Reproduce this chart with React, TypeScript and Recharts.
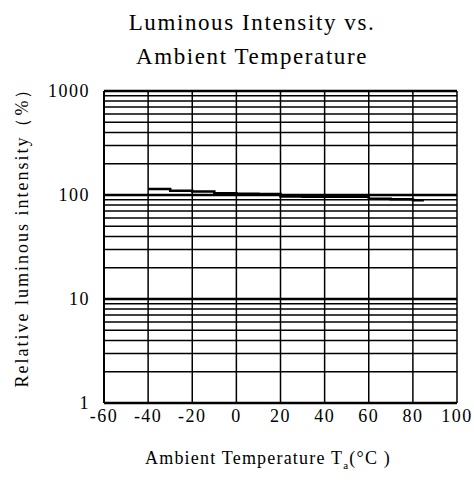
import React from 'react';
import { LineChart, Line, XAxis, YAxis, CartesianGrid, ReferenceLine } from 'recharts';

const temperatures = [-40, -30, -20, -10, 0, 10, 20, 30, 40, 50, 60, 70, 80, 85];
const intensity = [114, 110, 108, 104, 103, 102, 97, 96, 96, 96, 92, 91, 89, 89];

const xTicks = [-60, -40, -20, 0, 20, 40, 60, 80, 100];
const yTicks = [1, 10, 100, 1000];
const minorGrid = [2, 3, 4, 5, 6, 7, 8, 9, 20, 30, 40, 50, 60, 70, 80, 90, 200, 300, 400, 500, 600, 700, 800, 900];

const data = temperatures.map((t, i) => ({ t, v: intensity[i] }));

const font = '"Liberation Serif", "DejaVu Serif", serif';

const App = () => {
  const tickStyle = { fontFamily: font, fontSize: 18, fill: '#000', letterSpacing: 1.5 };
  return (
    <div style={{ position: 'absolute', left: 0, top: 0, width: 474, height: 485, background: '#fff', fontFamily: font }}>
      <div style={{ position: 'absolute', left: 0, top: 6, width: 504, textAlign: 'center', fontSize: 23, letterSpacing: 1.6, lineHeight: '34px', color: '#000' }}>
        Luminous Intensity vs.
        <br />
        Ambient Temperature
      </div>
      <LineChart width={474} height={485} data={data} margin={{ top: 91, right: 17, bottom: 52, left: 44 }}>
        <CartesianGrid stroke="#000" strokeWidth={1.5} horizontal={false} verticalValues={xTicks} />
        {minorGrid.map((y) => (
          <ReferenceLine key={`m${y}`} y={y} stroke="#000" strokeWidth={1.5} />
        ))}
        {yTicks.map((y) => (
          <ReferenceLine key={y} y={y} stroke="#000" strokeWidth={2.5} />
        ))}
        <XAxis
          dataKey="t"
          type="number"
          domain={[-60, 100]}
          ticks={xTicks}
          tick={tickStyle}
          tickLine={false}
          axisLine={{ stroke: '#000', strokeWidth: 2 }}
          height={30}
          tickMargin={0}
        />
        <YAxis
          dataKey="v"
          scale="log"
          domain={[1, 1000]}
          ticks={yTicks}
          allowDataOverflow
          tick={tickStyle}
          tickLine={false}
          axisLine={{ stroke: '#000', strokeWidth: 2 }}
          width={60}
          tickMargin={8}
        />
        <Line
          dataKey="v"
          type="stepAfter"
          stroke="#000"
          strokeWidth={2.5}
          dot={false}
          isAnimationActive={false}
        />
      </LineChart>
      <div
        style={{
          position: 'absolute',
          left: -178,
          top: 221,
          width: 400,
          height: 24,
          lineHeight: '24px',
          textAlign: 'center',
          fontSize: 18,
          letterSpacing: 2,
          color: '#000',
          transform: 'rotate(-90deg)',
          whiteSpace: 'nowrap',
        }}
      >
        Relative luminous intensity（%）
      </div>
      <div style={{ position: 'absolute', left: 0, top: 448, width: 536, textAlign: 'center', fontSize: 18, letterSpacing: 1.2, color: '#000' }}>
        Ambient Temperature T<sub style={{ fontSize: 11 }}>a</sub>(°C )
      </div>
    </div>
  );
};

export default App;
